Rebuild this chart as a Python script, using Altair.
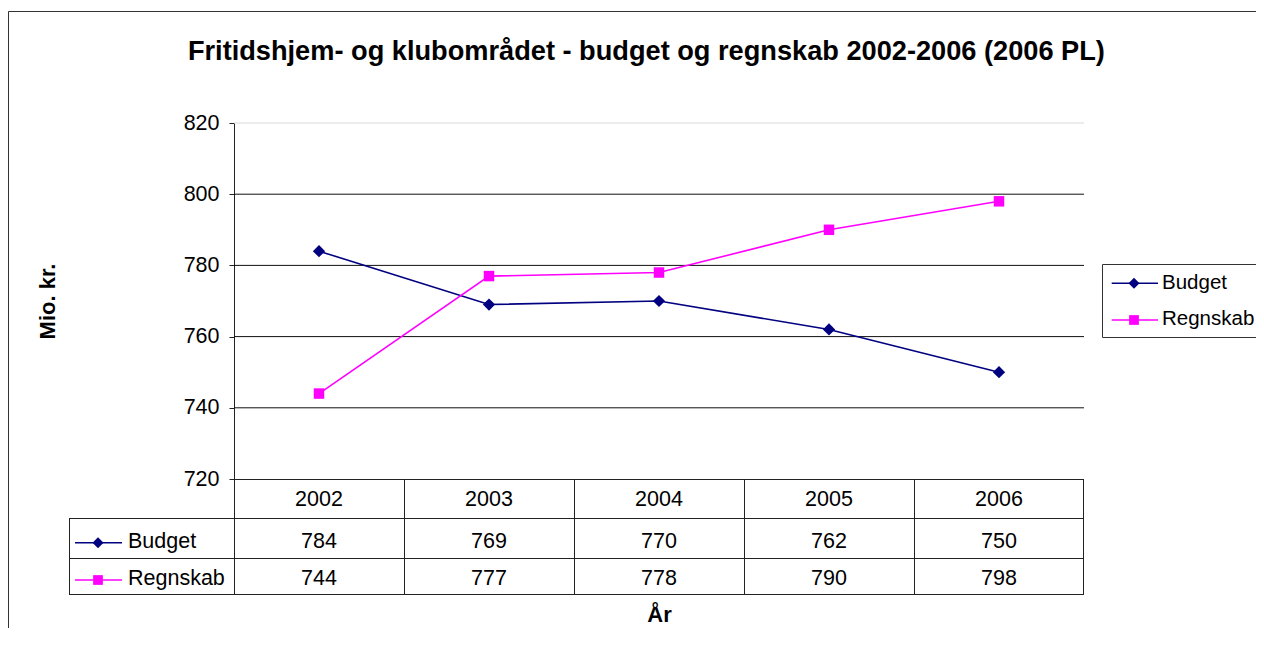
import altair as alt
import pandas as pd

# ---------------- data ----------------
years = [2002, 2003, 2004, 2005, 2006]
budget = [784, 769, 770, 762, 750]
regnskab = [744, 777, 778, 790, 798]
series_names = ["Budget", "Regnskab"]
series_colors = ["#000080", "#FF00FF"]
series_shapes = ["diamond", "square"]
series_sizes = [150, 110]
y_ticks = [720, 740, 760, 780, 800, 820]
grid_dark = [740, 760, 780, 800]
grid_light = [820]
title_text = "Fritidshjem- og klubområdet - budget og regnskab 2002-2006 (2006 PL)"
y_title = "Mio. kr."
x_title = "År"

# ---------------- layout ----------------
W, H = 850, 356
PAD_L, PAD_T, PAD_R, PAD_B = 226, 115, 172, 149
FONT = "Liberation Sans"
FS = 21.5
LINE = "#222222"

rows = []
for name, vals in zip(series_names, [budget, regnskab]):
    for yr, v in zip(years, vals):
        rows.append({"Year": yr, "Series": name, "Value": v})
df = pd.DataFrame(rows)
one = pd.DataFrame({"k": [0]})

x_scale = alt.Scale(domain=years, padding=0.5)
y_scale = alt.Scale(domain=[720, 820], nice=False, zero=False)
color_scale = alt.Scale(domain=series_names, range=series_colors)
shape_scale = alt.Scale(domain=series_names, range=series_shapes)
size_scale = alt.Scale(domain=series_names, range=series_sizes)

x_axis = alt.Axis(labels=False, ticks=False, domain=False, grid=False,
                  title=x_title, titleFont=FONT, titleFontSize=22,
                  titleFontWeight="bold", titleColor="black",
                  titleY=142.7, titleBaseline="alphabetic")
y_axis = alt.Axis(values=y_ticks, grid=False, domainColor=LINE, tickColor=LINE,
                  tickSize=5, labelFont=FONT, labelFontSize=FS, labelColor="black",
                  labelPadding=10, title=y_title, titleFont=FONT, titleFontSize=22,
                  titleFontWeight="bold", titleColor="black", titleAngle=270,
                  titleX=-187, titleY=178, titleAlign="center", titleBaseline="middle")

X = alt.X("Year:O", scale=x_scale, axis=x_axis)

layers = []

# outer frame
layers.append(alt.Chart(one).mark_rect(fillOpacity=0, stroke="#333333", strokeWidth=1).encode(
    x=alt.value(-225.5), x2=alt.value(W + PAD_R + 40),
    y=alt.value(-111.5), y2=alt.value(H + PAD_B + 40)))

# chart title
layers.append(alt.Chart(pd.DataFrame({"t": [title_text]})).mark_text(
    font=FONT, fontSize=27.2, fontWeight="bold", color="black",
    align="center", baseline="alphabetic").encode(
    x=alt.value(412.4), y=alt.value(-63), text="t:N"))

# gridlines
layers.append(alt.Chart(pd.DataFrame({"v": grid_light})).mark_rule(color="#d9d9d9", strokeWidth=1).encode(
    y=alt.Y("v:Q", scale=y_scale, axis=y_axis), x=alt.value(0), x2=alt.value(W)))
layers.append(alt.Chart(pd.DataFrame({"v": grid_dark})).mark_rule(color="#111111", strokeWidth=1).encode(
    y=alt.Y("v:Q", scale=y_scale, axis=y_axis), x=alt.value(0), x2=alt.value(W)))

# data table grid
h_lines = [(356.5, 0, W), (395.5, -165, W), (435.5, -165, W), (471.5, -165, W)]
v_lines = [(-164.5, 395.5, 471.5), (0.5, 356.5, 471.5)] + \
          [(W / 5 * k + 0.5 if k < 5 else W - 0.5, 356.5, 471.5) for k in range(1, 6)]
for yy, xa, xb in h_lines:
    layers.append(alt.Chart(one).mark_rule(color=LINE, strokeWidth=1).encode(
        x=alt.value(xa), x2=alt.value(xb), y=alt.value(yy)))
for xx, ya, yb in v_lines:
    layers.append(alt.Chart(one).mark_rule(color=LINE, strokeWidth=1).encode(
        x=alt.value(xx), y=alt.value(ya), y2=alt.value(yb)))

# series lines and markers
base = alt.Chart(df)
layers.append(base.mark_line(strokeWidth=1.6).encode(
    x=X, y=alt.Y("Value:Q", scale=y_scale, axis=y_axis),
    color=alt.Color("Series:N", scale=color_scale, legend=None)))
layers.append(base.mark_point(filled=True, opacity=1).encode(
    x=X, y=alt.Y("Value:Q", scale=y_scale, axis=y_axis),
    color=alt.Color("Series:N", scale=color_scale, legend=None),
    shape=alt.Shape("Series:N", scale=shape_scale, legend=None),
    size=alt.Size("Series:N", scale=size_scale, legend=None)))

# table header (years)
layers.append(alt.Chart(pd.DataFrame({"Year": years})).mark_text(
    font=FONT, fontSize=FS, baseline="alphabetic", align="center", color="black").encode(
    x=X, y=alt.value(383), text="Year:O"))

row_base = [424.5, 461.5]
row_line = [419.7, 457]
legend_line = [160.3, 197]
legend_base = [166.3, 202]
key_sizes = [120, 95]
for i, name in enumerate(series_names):
    sub = alt.Chart(df).transform_filter(alt.datum.Series == name)
    layers.append(sub.mark_text(font=FONT, fontSize=FS, baseline="alphabetic",
                                align="center", color="black").encode(
        x=X, y=alt.value(row_base[i]), text="Value:Q"))
    lab = alt.Chart(pd.DataFrame({"Series": [name]}))
    # table row key
    layers.append(lab.mark_rule(color=series_colors[i], strokeWidth=1.6).encode(
        x=alt.value(-159), x2=alt.value(-112), y=alt.value(row_line[i])))
    layers.append(lab.mark_point(filled=True, size=key_sizes[i], opacity=1, shape=series_shapes[i],
                                 color=series_colors[i]).encode(
        x=alt.value(-136), y=alt.value(row_line[i])))
    layers.append(lab.mark_text(font=FONT, fontSize=FS, baseline="alphabetic",
                                align="left", color="black").encode(
        x=alt.value(-106), y=alt.value(row_base[i] + 0.5), text="Series:N"))

# right legend box
layers.append(alt.Chart(one).mark_rect(fill="white", stroke="#333333", strokeWidth=1).encode(
    x=alt.value(868.5), x2=alt.value(W + PAD_R + 20),
    y=alt.value(141.5), y2=alt.value(214.5)))
for i, name in enumerate(series_names):
    lab = alt.Chart(pd.DataFrame({"Series": [name]}))
    layers.append(lab.mark_rule(color=series_colors[i], strokeWidth=1.6).encode(
        x=alt.value(877.7), x2=alt.value(924), y=alt.value(legend_line[i])))
    layers.append(lab.mark_point(filled=True, size=key_sizes[i], opacity=1, shape=series_shapes[i],
                                 color=series_colors[i]).encode(
        x=alt.value(900), y=alt.value(legend_line[i])))
    layers.append(lab.mark_text(font=FONT, fontSize=20.5, baseline="alphabetic",
                                align="left", color="black").encode(
        x=alt.value(928), y=alt.value(legend_base[i]), text="Series:N"))

chart = alt.layer(*layers).properties(
    width=W, height=H,
    autosize=alt.AutoSizeParams(type="none"),
    padding={"left": PAD_L, "top": PAD_T, "right": PAD_R, "bottom": PAD_B},
    background="white",
).configure_view(strokeWidth=0)

chart.save("out.html", embed_options={"renderer": "svg", "actions": False})
